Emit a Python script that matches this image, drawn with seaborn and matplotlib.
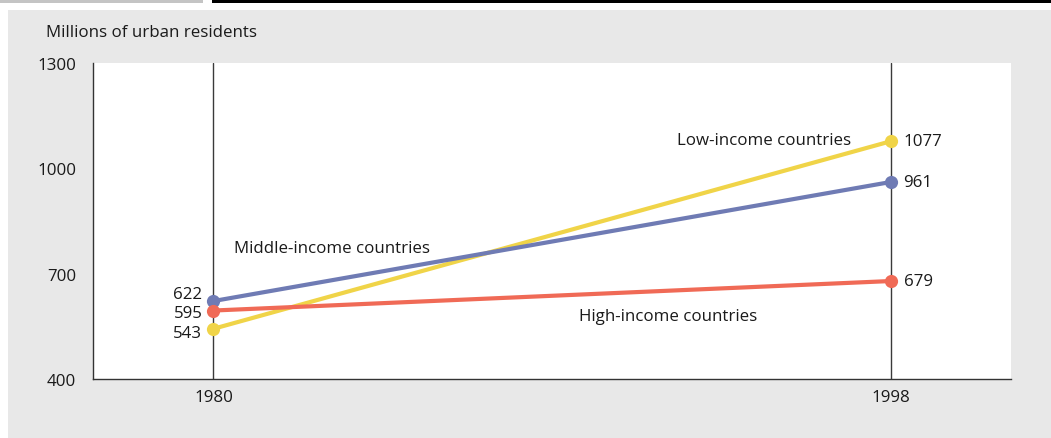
import matplotlib
matplotlib.use("Agg")
import matplotlib.pyplot as plt
import seaborn as sns
import pandas as pd
from matplotlib.patches import Rectangle

years = [1980, 1998]
series = ["Low-income countries", "Middle-income countries", "High-income countries"]
low_income = [543, 1077]
middle_income = [622, 961]
high_income = [595, 679]
yticks = [400, 700, 1000, 1300]

df = pd.DataFrame({
    "year": years * 3,
    "value": low_income + middle_income + high_income,
    "group": [series[0]] * 2 + [series[1]] * 2 + [series[2]] * 2,
})

palette = {series[0]: "#f0d448", series[1]: "#6f7bb4", series[2]: "#f06a56"}

sns.set_style("white")
plt.rcParams["font.family"] = ["Open Sans", "DejaVu Sans"]

W, H = 1051, 439
FS = 12.2
TXT = "#1a1a1a"
fig = plt.figure(figsize=(W / 100, H / 100), dpi=100, facecolor="white")

# header bars and grey panel
fig.patches.append(Rectangle((0, 1 - 4 / H), 203 / W, 4 / H, transform=fig.transFigure,
                             facecolor="#c4c4c4", edgecolor="none", zorder=-10))
fig.patches.append(Rectangle((212 / W, 1 - 4 / H), 1 - 212 / W, 4 / H, transform=fig.transFigure,
                             facecolor="#000000", edgecolor="none", zorder=-10))
fig.patches.append(Rectangle((8 / W, 0), 1 - 8 / W, (H - 11) / H, transform=fig.transFigure,
                             facecolor="#e8e8e8", edgecolor="none", zorder=-10))

ax = fig.add_axes([93 / W, (H - 380) / H, (1011 - 93) / W, (380 - 64) / H])
ax.set_zorder(1)
ax.set_facecolor("white")

for yr in years:
    ax.axvline(yr, color="#3a3a3a", lw=1, zorder=1)

sns.lineplot(data=df, x="year", y="value", hue="group", palette=palette,
             marker="o", markersize=9.5, markeredgewidth=0, linewidth=3,
             legend=False, ax=ax, zorder=3)

ax.set_xlim(1976.8, 2001.2)
ax.set_ylim(400, 1300)
ax.set_xticks(years)
ax.set_xticklabels([str(y) for y in years])
ax.set_yticks(yticks)
ax.set_yticklabels([str(t) for t in yticks])
ax.set_xlabel("")
ax.set_ylabel("")

for s in ["top", "right"]:
    ax.spines[s].set_visible(False)
for s in ["left", "bottom"]:
    ax.spines[s].set_color("#333333")
    ax.spines[s].set_linewidth(1)

ax.tick_params(axis="y", length=6, width=1, color="#999999", labelsize=FS, pad=6, labelcolor=TXT)
ax.tick_params(axis="x", length=5, width=1, color="#3a3a3a", labelsize=FS, pad=2, labelcolor=TXT)

# value labels (left side spread vertically to avoid overlap)
left_dy = {0: -4, 1: 7, 2: -2}
for i, vals in enumerate([low_income, middle_income, high_income]):
    ax.annotate(str(vals[0]), (years[0], vals[0]), xytext=(-11, left_dy[i]), textcoords="offset pixels",
                ha="right", va="center", fontsize=FS, color=TXT)
    ax.annotate(str(vals[1]), (years[1], vals[1]), xytext=(13, 0), textcoords="offset pixels",
                ha="left", va="center", fontsize=FS, color=TXT)

# series names
ax.text(1980.55, 772, series[1], ha="left", va="center", fontsize=FS, color=TXT)
ax.text(1996.95, 1080, series[0], ha="right", va="center", fontsize=FS, color=TXT)
ax.text(1994.45, 580, series[2], ha="right", va="center", fontsize=FS, color=TXT)

fig.text(46 / W, 1 - 33 / H, "Millions of urban residents", ha="left", va="center",
         fontsize=FS, color=TXT)

fig.savefig("out.png", dpi=100, facecolor="white")
